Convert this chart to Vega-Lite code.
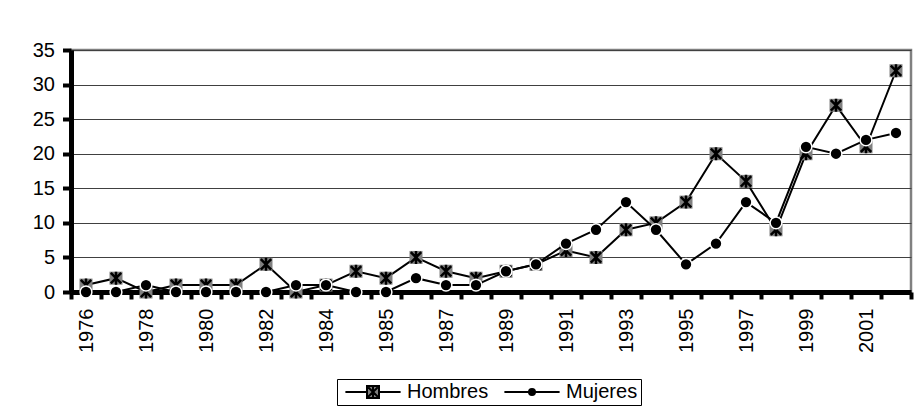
{
  "$schema": "https://vega.github.io/schema/vega-lite/v6.json",
  "width": 840,
  "height": 242,
  "autosize": "none",
  "padding": {"left": 71, "top": 50, "right": 10, "bottom": 123},
  "background": "white",
  "data": {
    "values": [
      {"anio": "1976", "Hombres": 1, "Mujeres": 0},
      {"anio": "1977", "Hombres": 2, "Mujeres": 0},
      {"anio": "1978", "Hombres": 0, "Mujeres": 1},
      {"anio": "1979", "Hombres": 1, "Mujeres": 0},
      {"anio": "1980", "Hombres": 1, "Mujeres": 0},
      {"anio": "1981", "Hombres": 1, "Mujeres": 0},
      {"anio": "1982", "Hombres": 4, "Mujeres": 0},
      {"anio": "1983", "Hombres": 0, "Mujeres": 1},
      {"anio": "1984", "Hombres": 1, "Mujeres": 1},
      {"anio": "1984b", "Hombres": 3, "Mujeres": 0},
      {"anio": "1985", "Hombres": 2, "Mujeres": 0},
      {"anio": "1986", "Hombres": 5, "Mujeres": 2},
      {"anio": "1987", "Hombres": 3, "Mujeres": 1},
      {"anio": "1988", "Hombres": 2, "Mujeres": 1},
      {"anio": "1989", "Hombres": 3, "Mujeres": 3},
      {"anio": "1990", "Hombres": 4, "Mujeres": 4},
      {"anio": "1991", "Hombres": 6, "Mujeres": 7},
      {"anio": "1992", "Hombres": 5, "Mujeres": 9},
      {"anio": "1993", "Hombres": 9, "Mujeres": 13},
      {"anio": "1994", "Hombres": 10, "Mujeres": 9},
      {"anio": "1995", "Hombres": 13, "Mujeres": 4},
      {"anio": "1996", "Hombres": 20, "Mujeres": 7},
      {"anio": "1997", "Hombres": 16, "Mujeres": 13},
      {"anio": "1998", "Hombres": 9, "Mujeres": 10},
      {"anio": "1999", "Hombres": 20, "Mujeres": 21},
      {"anio": "2000", "Hombres": 27, "Mujeres": 20},
      {"anio": "2001", "Hombres": 21, "Mujeres": 22},
      {"anio": "2002", "Hombres": 32, "Mujeres": 23}
    ]
  },
  "encoding": {
    "x": {
      "field": "anio",
      "type": "ordinal",
      "sort": null,
      "scale": {"type": "band", "paddingInner": 0, "paddingOuter": 0},
      "axis": {
        "title": null,
        "labelAngle": -90,
        "labelExpr": "indexof(['1976','1978','1980','1982','1984','1985','1987','1989','1991','1993','1995','1997','1999','2001'], datum.value) >= 0 ? datum.value : ''",
        "tickBand": "extent",
        "labelOverlap": false,
        "grid": false
      }
    }
  },
  "layer": [
    {
      "mark": {"type": "line", "strokeWidth": 2},
      "encoding": {
        "y": {
          "field": "Hombres",
          "type": "quantitative",
          "scale": {"domain": [0, 35], "nice": false, "zero": true},
          "axis": {"title": null}
        },
        "color": {
          "datum": "Hombres",
          "type": "nominal",
          "scale": {"domain": ["Hombres", "Mujeres"], "range": ["black", "black"]},
          "legend": {
            "title": null,
            "orient": "none",
            "legendX": 266,
            "legendY": 329,
            "direction": "horizontal",
            "strokeColor": "black",
            "fillColor": "white",
            "padding": 3,
            "labelFont": "Liberation Sans",
            "labelFontSize": 20,
            "labelColor": "black",
            "symbolSize": 144,
            "symbolOffset": 23,
            "labelOffset": 24,
            "columnPadding": 10,
            "encode": {
              "symbols": {
                "update": {
                  "shape": {"signal": "datum.value === 'Hombres' ? 'M-4.6,0H-1M1,0H4.6M-1,-1H1V1H-1ZM-0.8,-0.8L0.8,0.8M-0.8,0.8L0.8,-0.8M0,-1V1' : 'M-4.6,0H4.6M0.5,0A0.5,0.5 0 1,1 -0.5,0A0.5,0.5 0 1,1 0.5,0Z'"},
                  "fill": {"signal": "datum.value === 'Hombres' ? '#808080' : 'black'"},
                  "stroke": {"value": "black"},
                  "strokeWidth": {"value": 2}
                }
              }
            }
          }
        }
      }
    },
    {
      "mark": {"type": "point", "shape": "square", "filled": true, "fill": "#808080", "size": 169},
      "encoding": {"y": {"field": "Hombres", "type": "quantitative"}}
    },
    {
      "mark": {"type": "point", "shape": "M-0.8,-0.8L0.8,0.8M-0.8,0.8L0.8,-0.8M0,-1V1", "filled": false, "stroke": "black", "strokeWidth": 2.5, "size": 169},
      "encoding": {"y": {"field": "Hombres", "type": "quantitative"}}
    },
    {
      "mark": {"type": "line", "strokeWidth": 2},
      "encoding": {
        "y": {"field": "Mujeres", "type": "quantitative"},
        "color": {"datum": "Mujeres", "type": "nominal"}
      }
    },
    {
      "mark": {"type": "point", "shape": "circle", "filled": true, "fill": "black", "stroke": "white", "strokeWidth": 1.5, "size": 140},
      "encoding": {"y": {"field": "Mujeres", "type": "quantitative"}}
    }
  ],
  "config": {
    "view": {"stroke": "#808080", "strokeWidth": 2.5},
    "point": {"opacity": 1},
    "axis": {
      "labelFont": "Liberation Sans",
      "labelFontSize": 20,
      "labelColor": "black",
      "domainColor": "black",
      "tickColor": "black",
      "domainWidth": 5,
      "tickWidth": 4
    },
    "axisX": {"tickSize": 7, "labelPadding": 9, "domainWidth": 5, "tickWidth": 4},
    "axisY": {"tickSize": 8.5, "labelPadding": 8, "tickCount": 8, "grid": true, "gridColor": "#404040", "domainWidth": 5, "tickWidth": 4}
  }
}
